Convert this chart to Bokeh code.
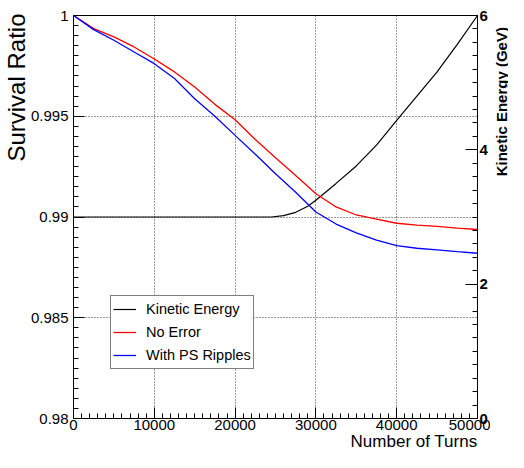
import math
from bokeh.plotting import figure
from bokeh.models import Range1d, LinearAxis, FixedTicker, Title
from bokeh.layouts import row
from bokeh.core.properties import value
from bokeh.embed import file_html
from bokeh.resources import INLINE

# ---- data ----
turns = [0, 2500, 5000, 7500, 10000, 12500, 15000, 17500, 20000, 22500, 25000,
         27500, 30000, 32500, 35000, 37500, 40000, 42500, 45000, 47500, 50000]
survival_no_error = [1.0, 0.99935, 0.99894, 0.99844, 0.99784, 0.99720, 0.99645,
                     0.99559, 0.99483, 0.99385, 0.99294, 0.99206, 0.99115, 0.99050,
                     0.99010, 0.98990, 0.98969, 0.98960, 0.98953, 0.98945, 0.98938]
survival_ps_ripples = [1.0, 0.99930, 0.99877, 0.99819, 0.99761, 0.99687, 0.99587,
                       0.99500, 0.99405, 0.99311, 0.99215, 0.99123, 0.99025, 0.98965,
                       0.98921, 0.98885, 0.98858, 0.98845, 0.98837, 0.98828, 0.98820]
energy_turns = [0, 24500, 26000, 27500, 29000, 30000, 32500, 35000, 37500,
                40000, 42500, 45000, 47500, 50000]
kinetic_energy = [3.0, 3.0, 3.02, 3.07, 3.16, 3.25, 3.50, 3.76, 4.07,
                  4.44, 4.80, 5.16, 5.57, 6.0]

x_ticks = [0, 10000, 20000, 30000, 40000, 50000]
x_tick_labels = ["0", "10000", "20000", "30000", "40000", "50000"]
y_ticks = [0.98, 0.985, 0.99, 0.995, 1.0]
y_tick_labels = ["0.98", "0.985", "0.99", "0.995", "1"]
e_ticks = [0, 2, 4, 6]
e_tick_labels = ["0", "2", "4", "6"]

FONT = "Liberation Sans"
H = 452

p = figure(width=490, height=H, output_backend="svg", toolbar_location=None,
           x_range=Range1d(0, 50000), y_range=Range1d(0.98, 1.0),
           min_border_left=73, min_border_right=10, min_border_top=15,
           min_border_bottom=34)
p.extra_y_ranges = {"E": Range1d(0, 6)}
p.background_fill_color = "white"
p.border_fill_color = "white"
p.outline_line_color = "black"
p.outline_line_width = 1
p.outline_line_alpha = 1

x_ticker = FixedTicker(ticks=x_ticks, minor_ticks=[i * 1000 for i in range(51)])
y_ticker = FixedTicker(ticks=y_ticks, minor_ticks=[0.98 + i * 0.0005 for i in range(41)])
e_ticker = FixedTicker(ticks=e_ticks, minor_ticks=[i * 0.2 for i in range(31)])

xaxis = p.xaxis[0]
yaxis = p.yaxis[0]
raxis = LinearAxis(y_range_name="E")
p.add_layout(raxis, "right")

xaxis.ticker = x_ticker
yaxis.ticker = y_ticker
raxis.ticker = e_ticker
xaxis.major_label_overrides = dict(zip(x_ticks, x_tick_labels))
yaxis.major_label_overrides = dict(zip(y_ticks, y_tick_labels))
raxis.major_label_overrides = dict(zip(e_ticks, e_tick_labels))

for ax in (xaxis, yaxis, raxis):
    ax.axis_line_color = "black"
    ax.axis_line_width = 1
    ax.major_tick_line_color = "black"
    ax.minor_tick_line_color = "black"
    ax.major_tick_out = 0
    ax.minor_tick_out = 0
    ax.major_tick_in = 11
    ax.minor_tick_in = 5
    ax.major_label_text_font = FONT
    ax.major_label_text_font_size = "15px"
    ax.major_label_text_color = "black"

xaxis.major_label_standoff = 1
yaxis.major_label_standoff = 5
raxis.major_label_standoff = 2
raxis.major_label_text_font_style = "bold"
raxis.major_tick_in = 12

# axis titles (ROOT style: aligned to the axis end)
left_title = Title(text="Survival Ratio", align="right", vertical_align="bottom",
                   text_font=FONT, text_font_size="24px", text_font_style="normal",
                   text_color="black", standoff=0)
try:
    left_title.standoff = -5
    left_title.offset = -2
except Exception:
    pass
p.add_layout(left_title, "left")

bottom_title = Title(text="Number of Turns", align="right", vertical_align="bottom",
                     text_font=FONT, text_font_size="17px", text_font_style="normal",
                     text_color="black", standoff=0)
try:
    bottom_title.standoff = -6
except Exception:
    pass
p.add_layout(bottom_title, "below")

p.xgrid.ticker = x_ticker
p.ygrid.ticker = y_ticker
for g in (p.xgrid[0], p.ygrid[0]):
    g.grid_line_color = "black"
    g.grid_line_dash = "1 2"
    g.grid_line_width = 1
    g.grid_line_alpha = 0.8

p.line(energy_turns, kinetic_energy, y_range_name="E", line_color="black",
       line_width=1.2, legend_label="Kinetic Energy")
p.line(turns, survival_no_error, line_color="#ff0000", line_width=1.3,
       legend_label="No Error")
p.line(turns, survival_ps_ripples, line_color="#0000ff", line_width=1.3,
       legend_label="With PS Ripples")

lg = p.legend[0]
lg.location = (37, 49)
lg.margin = 0
lg.padding = 2
lg.spacing = 1
lg.label_height = 22
lg.glyph_height = 22
lg.glyph_width = 23
lg.label_standoff = 10
lg.border_line_color = "black"
lg.border_line_width = 1
lg.background_fill_color = "white"
lg.background_fill_alpha = 1
lg.label_text_font = FONT
lg.label_text_font_size = "14.5px"
lg.label_text_color = "black"

# narrow strip on the right holding the right-axis title, read bottom to top
SW = 18
side = figure(width=SW, height=H, output_backend="svg", toolbar_location=None,
              x_range=Range1d(0, SW), y_range=Range1d(0, H),
              x_axis_type=None, y_axis_type=None,
              min_border_left=0, min_border_right=0, min_border_top=0,
              min_border_bottom=0)
side.outline_line_color = None
side.grid.visible = False
side.background_fill_color = "white"
side.border_fill_color = "white"
side.text(x=[11], y=[H - 13], text=["Kinetic Energy (GeV)"], angle=math.pi / 2,
          text_align="right", text_baseline="alphabetic",
          text_font=value(FONT), text_font_style="bold", text_font_size="15px",
          text_color="black")

layout = row(p, side, spacing=0)

open("out.html", "w").write(file_html(layout, INLINE))
